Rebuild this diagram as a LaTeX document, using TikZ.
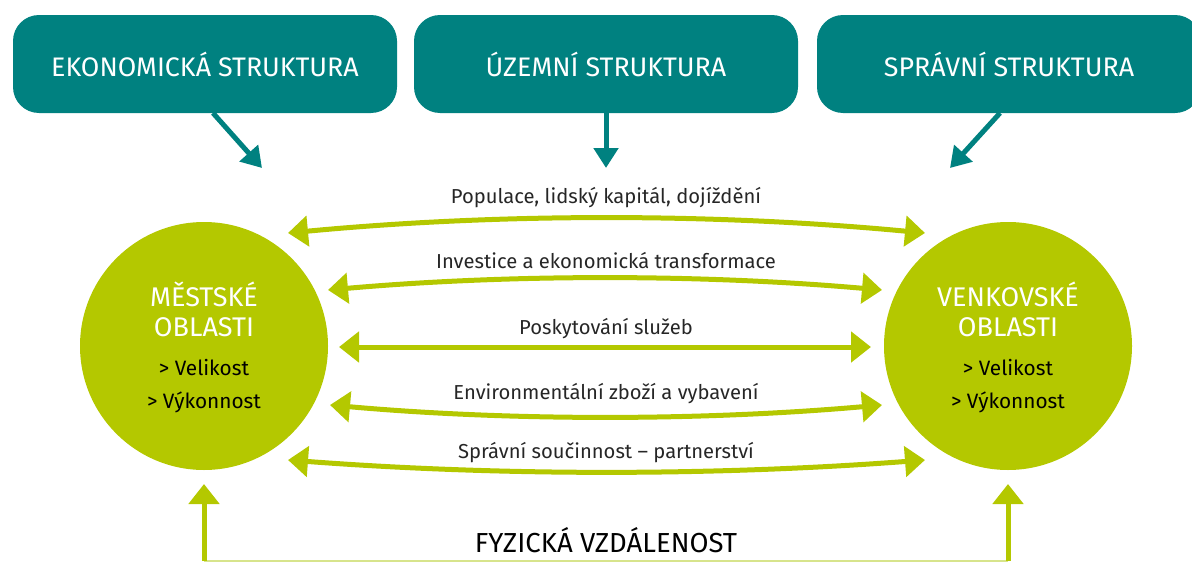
\documentclass[tikz,border=0pt]{standalone}
\usepackage{fontspec}
\setmainfont{Fira Sans}
\usetikzlibrary{arrows.meta}
\definecolor{teal}{RGB}{0,129,128}
\definecolor{lime}{RGB}{180,200,0}
\definecolor{limelight}{RGB}{215,228,140}
\tikzset{
  topbox/.style={fill=teal, rounded corners=26pt, minimum width=384pt, minimum height=98pt, text=white, font=\fontsize{26.8}{30}\selectfont, inner sep=0pt},
  circ/.style={circle, fill=lime, minimum size=248pt, inner sep=0pt},
  tealarrow/.style={teal, line width=5pt, -{Triangle[length=20pt, width=24pt]}},
  limearrow/.style={lime, line width=5pt, {Triangle[length=20pt, width=30pt]}-{Triangle[length=20pt, width=30pt]}},
  uparrow/.style={lime, line width=5pt, -{Triangle[length=20pt, width=30pt]}},
  lbl/.style={font=\fontsize{20.2}{24}\selectfont, text=black!85, inner sep=0pt},
  ctitle/.style={font=\fontsize{27}{30}\selectfont, text=white, align=center, inner sep=0pt},
  cbody/.style={font=\fontsize{20.8}{33}\selectfont, text=black, align=center, inner sep=0pt}
}
\begin{document}
\begin{tikzpicture}[x=1pt, y=-1pt]
\useasboundingbox (0,0) rectangle (1192,562);
\begin{scope}
\clip (0,0) rectangle (1192,562);
% top boxes
\node[topbox] (eko) at (205,64) {EKONOMICKÁ STRUKTURA};
\node[topbox] (uz) at (606,64) {ÚZEMNÍ STRUKTURA};
\node[topbox] (spr) at (1009,64) {SPRÁVNÍ STRUKTURA};
\end{scope}
\coordinate (ekoS) at (213,113);
\coordinate (ekoT) at (262,168);
\coordinate (uzS) at (606,113);
\coordinate (uzT) at (606,168);
\coordinate (sprS) at (1000,113);
\coordinate (sprT) at (950,168);
\draw[tealarrow] (ekoS) -- (ekoT);
\draw[tealarrow] (uzS) -- (uzT);
\draw[tealarrow] (sprS) -- (sprT);
% circles
\node[circ] (mest) at (204,346) {};
\node[circ] (venk) at (1008,346) {};
\node[ctitle] (mestT) at (204,309) {MĚSTSKÉ\\OBLASTI};
\node[cbody] (mestB) at (204,386) {> Velikost\\> Výkonnost};
\node[ctitle] (venkT) at (1008,309) {VENKOVSKÉ\\OBLASTI};
\node[cbody] (venkB) at (1008,386) {> Velikost\\> Výkonnost};
% horizontal arrows
\coordinate (a1l) at (288,233); \coordinate (a1r) at (925,233);
\coordinate (a2l) at (328,290); \coordinate (a2r) at (882,290);
\coordinate (a3l) at (339,347); \coordinate (a3r) at (871,347);
\coordinate (a4l) at (330,405); \coordinate (a4r) at (882,405);
\coordinate (a5l) at (288,460); \coordinate (a5r) at (925,460);
\draw[limearrow] (a1l) .. controls (500,213) and (713,213) .. (a1r);
\draw[limearrow] (a2l) .. controls (510,274) and (700,274) .. (a2r);
\draw[limearrow] (a3l) -- (a3r);
\draw[limearrow] (a4l) .. controls (510,421) and (700,421) .. (a4r);
\draw[limearrow] (a5l) .. controls (500,476) and (713,476) .. (a5r);
\node[lbl] (l1) at (606,198) {Populace, lidský kapitál, dojíždění};
\node[lbl] (l2) at (606,261) {Investice a ekonomická transformace};
\node[lbl] (l3) at (606,329) {Poskytování služeb};
\node[lbl] (l4) at (606,394) {Environmentální zboží a vybavení};
\node[lbl] (l5) at (606,453) {Správní součinnost – partnerství};
% bottom
\coordinate (bl) at (204,561);
\coordinate (br) at (1008,561);
\coordinate (blT) at (204,484);
\coordinate (brT) at (1008,484);
\draw[limelight, line width=2pt] (bl) -- (br);
\draw[uparrow] (bl) -- (blT);
\draw[uparrow] (br) -- (brT);
\node[font=\fontsize{27.5}{30}\selectfont, text=black, inner sep=0pt] (fyz) at (606,540) {FYZICKÁ VZDÁLENOST};
\end{tikzpicture}
\end{document}
